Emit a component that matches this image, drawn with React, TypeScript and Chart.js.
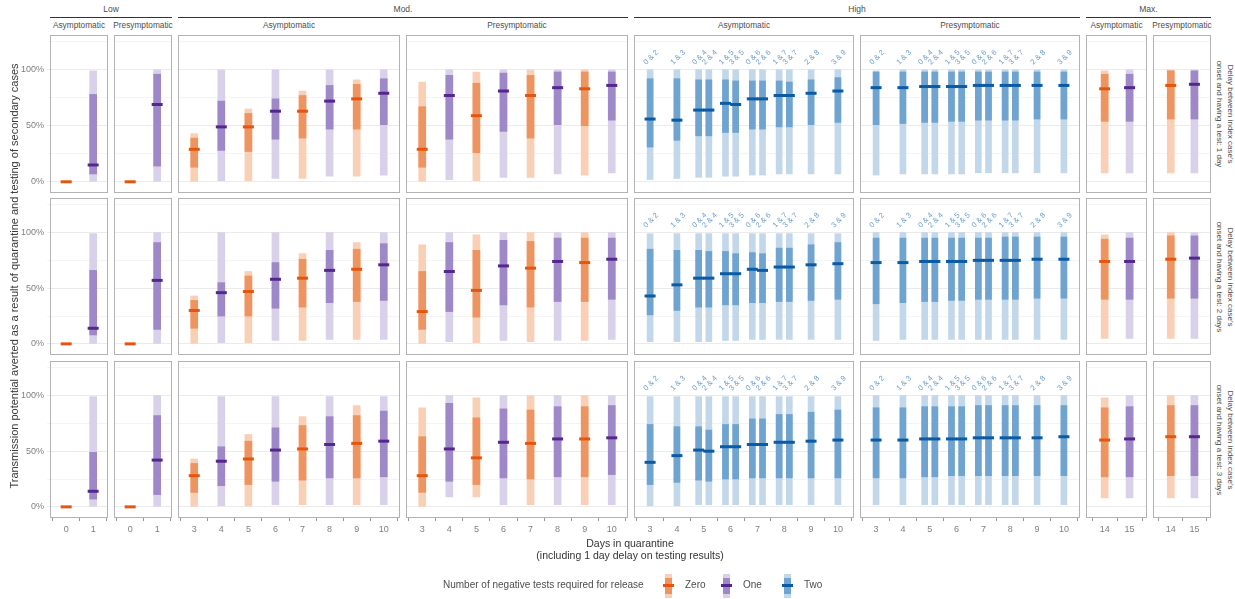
import React, { useEffect, useRef } from "react";
import { Chart, registerables } from "chart.js";
Chart.register(...registerables);

// ---------- data: each entry [lo95, lo50, median, hi50, hi95] in % ----------
const lowX = [0, 1];
const lowTests = ["Zero", "One"];
const modX = [3, 4, 5, 6, 7, 8, 9, 10];
const modTests = ["Zero", "One", "Zero", "One", "Zero", "One", "Zero", "One"];
const highX = [3, 4, 4.81, 5.19, 5.81, 6.19, 6.81, 7.19, 7.81, 8.19, 9, 10];
const highTests = highX.map(() => "Two");
const highLabels = ["0 & 2", "1 & 3", "0 & 4", "2 & 4", "1 & 5", "3 & 5", "0 & 6", "2 & 6", "1 & 7", "3 & 7", "2 & 8", "3 & 9"];
const maxX = [14, 15];
const maxTests = ["Zero", "One"];
const modTicks = [3, 4, 5, 6, 7, 8, 9, 10];

const lowAsym1 = [[0, 0, 0, 0, 0], [0, 7, 15, 78, 99]];
const lowAsym2 = [[0, 0, 0, 0, 0], [0, 8, 14, 66, 99]];
const lowAsym3 = [[0, 0, 0, 0, 0], [0, 7, 14, 49, 99]];
const lowPre1 = [[0, 0, 0, 0, 0], [0, 14, 69, 96, 100]];
const lowPre2 = [[0, 0, 0, 0, 0], [0, 13, 57, 91, 100]];
const lowPre3 = [[0, 0, 0, 0, 0], [0, 11, 42, 82, 100]];

const modAsym1 = [[0, 13, 29, 39, 43], [1, 28, 49, 72, 100], [1, 27, 49, 61, 65], [3, 38, 63, 74, 100], [3, 39, 63, 77, 81], [5, 47, 72, 86, 100], [5, 47, 74, 87, 91], [6, 51, 79, 92, 100]];
const modAsym2 = [[0, 14, 30, 39, 43], [1, 25, 46, 55, 100], [1, 25, 47, 61, 65], [3, 32, 58, 73, 100], [3, 33, 59, 76, 81], [4, 37, 66, 84, 100], [4, 38, 67, 85, 91], [4, 39, 71, 90, 100]];
const modAsym3 = [[0, 13, 28, 39, 43], [1, 19, 41, 54, 99], [1, 20, 43, 59, 65], [2, 23, 51, 71, 99], [2, 24, 52, 73, 81], [2, 26, 56, 81, 99], [2, 26, 57, 82, 91], [2, 27, 59, 86, 99]];
const modPre1 = [[0, 13, 29, 67, 89], [2, 38, 77, 95, 100], [1, 26, 59, 88, 98], [4, 45, 81, 97, 100], [4, 39, 77, 95, 100], [7, 51, 84, 98, 100], [6, 50, 83, 98, 100], [8, 55, 86, 98, 100]];
const modPre2 = [[0, 13, 29, 65, 89], [2, 29, 65, 91, 100], [1, 24, 48, 84, 98], [3, 35, 70, 93, 100], [2, 33, 68, 92, 100], [3, 38, 74, 95, 100], [3, 38, 73, 95, 100], [4, 40, 76, 95, 100]];
const modPre3 = [[0, 13, 28, 63, 89], [9, 23, 52, 93, 100], [9, 20, 44, 80, 98], [2, 26, 58, 88, 100], [2, 25, 57, 87, 100], [2, 27, 61, 90, 100], [2, 27, 61, 90, 100], [2, 29, 62, 91, 100]];

const highAsym1 = [[2, 31, 56, 92, 100], [3, 37, 55, 92, 100], [4, 41, 64, 91, 100], [4, 41, 64, 91, 100], [5, 44, 70, 91, 100], [5, 44, 69, 90, 100], [6, 47, 74, 90, 100], [6, 47, 74, 90, 100], [7, 49, 77, 90, 100], [7, 49, 77, 89, 100], [7, 51, 79, 91, 100], [7, 53, 81, 93, 100]];
const highAsym2 = [[2, 26, 43, 85, 99], [2, 30, 53, 84, 99], [2, 33, 59, 84, 99], [2, 33, 59, 83, 99], [3, 35, 63, 83, 99], [3, 35, 63, 81, 99], [4, 37, 67, 82, 99], [4, 37, 66, 81, 99], [4, 38, 69, 86, 99], [4, 38, 69, 86, 99], [4, 39, 71, 89, 99], [4, 40, 72, 91, 99]];
const highAsym3 = [[1, 20, 40, 74, 99], [1, 22, 46, 72, 99], [2, 24, 51, 72, 99], [2, 23, 50, 69, 99], [2, 25, 54, 74, 99], [2, 25, 54, 74, 99], [2, 26, 56, 79, 99], [2, 26, 56, 79, 99], [2, 26, 58, 83, 99], [2, 26, 58, 83, 99], [2, 26, 59, 85, 99], [2, 26, 60, 87, 99]];
const highPre1 = [[6, 51, 84, 98, 99], [7, 52, 84, 98, 100], [7, 53, 85, 98, 100], [7, 53, 85, 98, 100], [7, 54, 85, 98, 100], [7, 54, 85, 98, 100], [8, 55, 86, 98, 100], [8, 55, 86, 98, 100], [8, 55, 86, 98, 100], [8, 55, 86, 98, 100], [8, 56, 86, 98, 100], [8, 56, 86, 98, 100]];
const highPre2 = [[3, 36, 73, 95, 100], [4, 37, 73, 95, 100], [4, 38, 74, 95, 100], [4, 38, 74, 95, 100], [4, 39, 74, 95, 100], [4, 39, 74, 95, 100], [4, 40, 75, 95, 100], [4, 40, 75, 95, 100], [4, 40, 75, 96, 100], [4, 40, 75, 96, 100], [4, 41, 76, 96, 100], [4, 41, 76, 96, 100]];
const highPre3 = [[2, 26, 60, 89, 100], [2, 26, 60, 89, 100], [2, 27, 61, 90, 100], [2, 27, 61, 90, 100], [2, 28, 61, 90, 100], [2, 28, 61, 90, 100], [2, 28, 62, 91, 100], [2, 28, 62, 91, 100], [2, 28, 62, 91, 100], [2, 28, 62, 91, 100], [2, 28, 62, 91, 100], [2, 28, 63, 91, 100]];

const maxAsym1 = [[8, 54, 83, 96, 99], [8, 54, 84, 96, 100]];
const maxAsym2 = [[5, 40, 74, 94, 98], [5, 40, 74, 95, 100]];
const maxAsym3 = [[8, 27, 60, 89, 98], [8, 27, 61, 90, 100]];
const maxPre1 = [[8, 56, 86, 99, 100], [8, 56, 87, 99, 100]];
const maxPre2 = [[5, 41, 76, 97, 100], [5, 41, 77, 97, 100]];
const maxPre3 = [[8, 28, 63, 91, 100], [8, 28, 63, 91, 100]];

const yTicks = [0, 25, 50, 75, 100, 125];
const rowLabels = ["Delay between index case's\nonset and having a test: 1 day", "Delay between index case's\nonset and having a test: 2 days", "Delay between index case's\nonset and having a test: 3 days"];

// ---------- styling ----------
const COLORS: Record<string, { light: string; dark: string; med: string }> = {
  Zero: { light: "#f9cfb6", dark: "#ee9460", med: "#e6550d" },
  One: { light: "#d9d1e9", dark: "#9e88c8", med: "#54278f" },
  Two: { light: "#c3d7ea", dark: "#6fa3d0", med: "#0b5aa4" },
};
const FONT = "'Liberation Sans', Arial, sans-serif";
const TXT = "#4d4d4d";

type Panel = { group: string; sub: string; left: number; right: number; xmin: number; xmax: number; xs: number[]; tests: string[]; ticks: number[]; labels?: string[]; rows: number[][][]; bw: number };
const PANELS: Panel[] = [
  { group: "Low", sub: "Asymptomatic", left: 50, right: 108, xmin: -0.6, xmax: 1.55, xs: lowX, tests: lowTests, ticks: lowX, rows: [lowAsym1, lowAsym2, lowAsym3], bw: 7 },
  { group: "Low", sub: "Presymptomatic", left: 114, right: 172, xmin: -0.6, xmax: 1.55, xs: lowX, tests: lowTests, ticks: lowX, rows: [lowPre1, lowPre2, lowPre3], bw: 7 },
  { group: "Mod.", sub: "Asymptomatic", left: 178, right: 400, xmin: 2.4, xmax: 10.6, xs: modX, tests: modTests, ticks: modTicks, rows: [modAsym1, modAsym2, modAsym3], bw: 7 },
  { group: "Mod.", sub: "Presymptomatic", left: 406, right: 628, xmin: 2.4, xmax: 10.6, xs: modX, tests: modTests, ticks: modTicks, rows: [modPre1, modPre2, modPre3], bw: 7 },
  { group: "High", sub: "Asymptomatic", left: 634, right: 854, xmin: 2.4, xmax: 10.6, xs: highX, tests: highTests, ticks: modTicks, labels: highLabels, rows: [highAsym1, highAsym2, highAsym3], bw: 6 },
  { group: "High", sub: "Presymptomatic", left: 860, right: 1080, xmin: 2.4, xmax: 10.6, xs: highX, tests: highTests, ticks: modTicks, labels: highLabels, rows: [highPre1, highPre2, highPre3], bw: 6 },
  { group: "Max.", sub: "Asymptomatic", left: 1086, right: 1147, xmin: 13.25, xmax: 15.7, xs: maxX, tests: maxTests, ticks: maxX, rows: [maxAsym1, maxAsym2, maxAsym3], bw: 7 },
  { group: "Max.", sub: "Presymptomatic", left: 1153, right: 1211, xmin: 13.25, xmax: 15.7, xs: maxX, tests: maxTests, ticks: maxX, rows: [maxPre1, maxPre2, maxPre3], bw: 7 },
];
const ROWS = [{ top: 35, bottom: 193 }, { top: 198, bottom: 355 }, { top: 361, bottom: 518 }];
const Y_AXIS_W = 42;
const X_AXIS_H = 20;

const frame = {
  id: "frame",
  afterDraw(chart: any) {
    const a = chart.chartArea;
    const ctx = chart.ctx;
    ctx.save();
    ctx.strokeStyle = "#b3b3b3";
    ctx.lineWidth = 1;
    ctx.strokeRect(a.left + 0.5, a.top + 0.5, a.right - a.left - 1, a.bottom - a.top - 1);
    ctx.restore();
  },
};
const pairLabels = {
  id: "pairLabels",
  afterDatasetsDraw(chart: any) {
    const labs: string[] | undefined = chart.options.plugins.pairLabels?.labels;
    const xs: number[] = chart.options.plugins.pairLabels?.xs;
    if (!labs) return;
    const ctx = chart.ctx;
    ctx.save();
    ctx.fillStyle = "#6b9ccc";
    ctx.font = `7.5px ${FONT}`;
    ctx.textAlign = "center";
    ctx.textBaseline = "middle";
    labs.forEach((l, i) => {
      const px = chart.scales.x.getPixelForValue(xs[i]);
      const py = chart.scales.y.getPixelForValue(111);
      ctx.save();
      ctx.translate(px + 1, py);
      ctx.rotate(-Math.PI / 4);
      ctx.fillText(l, 0, 0);
      ctx.restore();
    });
    ctx.restore();
  },
};

function PanelChart({ p, ri, first, bottom }: { p: Panel; ri: number; first: boolean; bottom: boolean }) {
  const ref = useRef<HTMLCanvasElement>(null);
  useEffect(() => {
    const vals = p.rows[ri];
    const ds: any[] = [];
    ["Zero", "One", "Two"].forEach((t) => {
      const idx = p.tests.map((tt, i) => (tt === t ? i : -1)).filter((i) => i >= 0);
      if (!idx.length) return;
      const c = COLORS[t];
      ds.push({ type: "bar", order: 3, data: idx.map((i) => ({ x: p.xs[i], y: [vals[i][0], vals[i][4]] })), backgroundColor: c.light, barThickness: p.bw, grouped: false });
      ds.push({ type: "bar", order: 2, data: idx.map((i) => ({ x: p.xs[i], y: [vals[i][1], vals[i][3]] })), backgroundColor: c.dark, barThickness: p.bw, grouped: false });
      ds.push({ type: "scatter", order: 1, data: idx.map((i) => ({ x: p.xs[i], y: vals[i][2] })), pointStyle: "line", pointRadius: 5.5, borderColor: c.med, borderWidth: 3, pointHoverRadius: 5.5 });
    });
    const chart = new Chart(ref.current!, {
      type: "bar",
      data: { datasets: ds },
      plugins: [frame, pairLabels],
      options: {
        animation: false,
        responsive: true,
        maintainAspectRatio: false,
        layout: { padding: 0, autoPadding: false },
        events: [],
        plugins: { legend: { display: false }, tooltip: { enabled: false }, pairLabels: { labels: p.labels, xs: p.xs } } as any,
        scales: {
          x: {
            type: "linear",
            min: p.xmin,
            max: p.xmax,
            offset: false,
            afterBuildTicks: (s: any) => { s.ticks = p.ticks.map((v) => ({ value: v })); },
            afterFit: (s: any) => { s.height = bottom ? X_AXIS_H : 0; s.paddingLeft = 0; s.paddingRight = 0; },
            ticks: { display: bottom, color: "#7f7f7f", font: { size: 9, family: FONT }, padding: 3, maxRotation: 0, autoSkip: false, callback: (v: any) => String(v) },
            grid: { display: bottom, drawOnChartArea: false, tickLength: 3, color: "#999" },
            border: { display: false },
          },
          y: {
            min: -10,
            max: 131,
            afterBuildTicks: (s: any) => { s.ticks = yTicks.map((v) => ({ value: v })); },
            afterFit: (s: any) => { s.width = first ? Y_AXIS_W : 0; s.paddingTop = 0; s.paddingBottom = 0; },
            ticks: { display: first, color: "#7f7f7f", font: { size: 9, family: FONT }, padding: 3, callback: (v: any) => (v % 50 === 0 && v <= 100 ? v + "%" : "") },
            grid: {
              drawTicks: first,
              tickLength: 3,
              color: (c: any) => (c.tick && c.tick.value % 50 === 0 && c.tick.value <= 100 ? "#ebebeb" : "#f4f4f4"),
              lineWidth: 1,
            },
            border: { display: false },
          },
        },
      } as any,
    });
    return () => chart.destroy();
  }, []);
  const r = ROWS[ri];
  const left = p.left - (first ? Y_AXIS_W : 0);
  const width = p.right - p.left + (first ? Y_AXIS_W : 0);
  const height = r.bottom - r.top + (bottom ? X_AXIS_H : 0);
  return (
    <div style={{ position: "absolute", left, top: r.top, width, height }}>
      <canvas ref={ref} />
    </div>
  );
}

function LegendKey({ t, x }: { t: string; x: number }) {
  const c = COLORS[t];
  return (
    <>
      <div style={{ position: "absolute", left: x, top: 574, width: 7, height: 24, background: c.light }} />
      <div style={{ position: "absolute", left: x, top: 578, width: 7, height: 16, background: c.dark }} />
      <div style={{ position: "absolute", left: x - 2, top: 584, width: 11, height: 3, background: c.med }} />
      <div style={{ position: "absolute", left: x + 20, top: 579, fontSize: 10, color: TXT }}>{t}</div>
    </>
  );
}

export default function App() {
  const groups = [
    { name: "Low", l: 50, r: 172 },
    { name: "Mod.", l: 178, r: 628 },
    { name: "High", l: 634, r: 1080 },
    { name: "Max.", l: 1086, r: 1211 },
  ];
  return (
    <div style={{ position: "absolute", left: 0, top: 0, width: 1235, height: 599, background: "#fff", fontFamily: FONT, overflow: "hidden" }}>
      {groups.map((g) => (
        <React.Fragment key={g.name}>
          <div style={{ position: "absolute", left: g.l, width: g.r - g.l, top: 4, textAlign: "center", fontSize: 8.5, color: TXT }}>{g.name}</div>
          <div style={{ position: "absolute", left: g.l, width: g.r - g.l, top: 17, height: 1, background: "#333" }} />
        </React.Fragment>
      ))}
      {PANELS.map((p, i) => (
        <div key={i} style={{ position: "absolute", left: p.left - 5, width: p.right - p.left + 10, top: 20, textAlign: "center", fontSize: 8.3, color: TXT, whiteSpace: "nowrap" }}>{p.sub}</div>
      ))}
      {ROWS.map((r, ri) =>
        PANELS.map((p, pi) => <PanelChart key={ri + "-" + pi} p={p} ri={ri} first={pi === 0} bottom={ri === 2} />)
      )}
      {ROWS.map((r, ri) => (
        <div key={ri} style={{ position: "absolute", left: 1224 - 80, top: (r.top + r.bottom) / 2 - 12, width: 160, height: 24, transform: "rotate(90deg)", transformOrigin: "80px 12px", textAlign: "center", fontSize: 8, lineHeight: "11px", color: TXT, whiteSpace: "pre" }}>{rowLabels[ri]}</div>
      ))}
      <div style={{ position: "absolute", left: 14 - 250, top: 277 - 7, width: 500, textAlign: "center", transform: "rotate(-90deg)", fontSize: 11, color: "#333", whiteSpace: "nowrap" }}>
        Transmission potential averted as a result of quarantine and testing of secondary cases
      </div>
      <div style={{ position: "absolute", left: 430, width: 400, top: 537, textAlign: "center", fontSize: 10.5, lineHeight: "12px", color: "#333" }}>
        Days in quarantine
        <br />
        (including 1 day delay on testing results)
      </div>
      <div style={{ position: "absolute", left: 443, top: 579, fontSize: 10, color: TXT }}>Number of negative tests required for release</div>
      <LegendKey t="Zero" x={665} />
      <LegendKey t="One" x={723} />
      <LegendKey t="Two" x={784} />
    </div>
  );
}
